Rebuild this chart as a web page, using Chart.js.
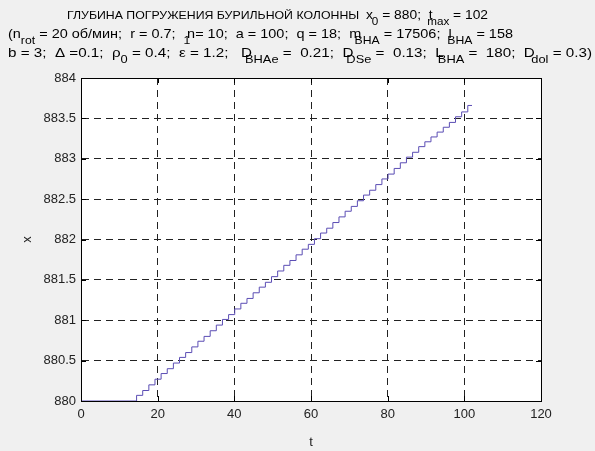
<!DOCTYPE html>
<html>
<head>
<meta charset="utf-8">
<script src="https://cdn.jsdelivr.net/npm/chart.js@4.4.0/dist/chart.umd.min.js"></script>
<style>
  html, body { margin: 0; padding: 0; background: #f0f0f0; }
</style>
</head>
<body>
<canvas id="chart" width="595" height="451"></canvas>
<script>
// ---------- DATA ----------
const stepT = [0, 14.5, 16.1, 17.7, 19.3, 20.9, 22.5, 24.1, 25.7, 27.3, 28.9, 30.5, 32.1, 33.7, 35.3,
  36.9, 38.5, 40.1, 41.7, 43.3, 44.9, 46.5, 48.1, 49.7, 51.3, 52.9, 54.5, 56.1, 57.7, 59.3, 60.9,
  62.5, 64.1, 65.7, 67.3, 68.9, 70.5, 72.1, 73.7, 75.3, 76.9, 78.5, 80.1, 81.7, 83.3, 84.9, 86.5,
  88.1, 89.7, 91.3, 92.9, 94.5, 96.1, 97.7, 99.3, 100.9, 102];
const stepX = [880, 880.07, 880.13, 880.20, 880.27, 880.34, 880.40, 880.47, 880.54, 880.60, 880.67,
  880.74, 880.80, 880.87, 880.94, 881.01, 881.07, 881.14, 881.21, 881.27, 881.34, 881.41, 881.47,
  881.54, 881.61, 881.68, 881.74, 881.81, 881.88, 881.94, 882.01, 882.08, 882.14, 882.21, 882.28,
  882.35, 882.41, 882.48, 882.55, 882.61, 882.68, 882.75, 882.81, 882.88, 882.95, 883.02, 883.08,
  883.15, 883.21, 883.27, 883.33, 883.39, 883.45, 883.52, 883.58, 883.66, 883.66];
const tRange = [0, 120, 20];
const xRange = [880, 884, 0.5];
const xLabel = "x";
const tLabel = "t";

// title lines: [text, isSubscript, shiftBack, fontSize]
const titleLines = [
  { x0: 67, x1: 488, y: 19, parts: [
    ["ГЛУБИНА ПОГРУЖЕНИЯ БУРИЛЬНОЙ КОЛОННЫ  ", 0, 0, 11.6], ["x", 0, 0], ["0", 1, 1], [" = 880;  t", 0, 0], ["max", 1, 5], [" = 102", 0, 0]
  ]},
  { x0: 8, x1: 513, y: 38, parts: [
    ["(n", 0, 0], ["rot", 1, 0], [" = 20 об/мин;  r = 0.7;  ", 0, 0], ["1", 1, 0], ["n= 10;  a = 100;  q = 18;  m", 0, 3],
    ["BHA", 1, 6], [" = 17506;  l", 0, 0], ["BHA", 1, 4], [" = 158", 0, 0]
  ]},
  { x0: 8, x1: 592, y: 57, parts: [
    ["b = 3;  Δ =0.1;  ρ", 0, 0], ["0", 1, 0], [" = 0.4;  ε = 1.2;   D", 0, 0], ["BHAe", 1, 6], [" =  0.21;  D", 0, 0],
    ["DSe", 1, 6], [" =  0.13;  L", 0, 0], ["BHA", 1, 5], [" =  180;  D", 0, 0], ["dol", 1, 3], [" = 0.3)", 0, 0]
  ]}
];

const FONT = "'Liberation Sans', Arial, sans-serif";

// ---------- PLUGINS ----------
const backdrop = {
  id: "backdrop",
  beforeDraw(chart) {
    const { ctx, chartArea: a } = chart;
    ctx.save();
    ctx.fillStyle = "#f0f0f0";
    ctx.fillRect(0, 0, chart.width, chart.height);
    ctx.fillStyle = "#ffffff";
    ctx.fillRect(a.left, a.top, a.right - a.left, a.bottom - a.top);
    ctx.restore();
  }
};

function partFont(sub, size) {
  return (size || (sub ? 11 : 13)) + "px " + FONT;
}

const frame = {
  id: "frame",
  afterDraw(chart) {
    const { ctx, chartArea: a, scales } = chart;
    ctx.save();
    ctx.strokeStyle = "#000";
    ctx.lineWidth = 1;
    ctx.strokeRect(a.left + 0.5, a.top + 0.5, a.right - a.left, a.bottom - a.top);
    ctx.beginPath();
    const len = 5;
    scales.x.ticks.forEach(t => {
      const px = Math.round(scales.x.getPixelForValue(t.value)) + 0.5;
      ctx.moveTo(px, a.bottom); ctx.lineTo(px, a.bottom - len);
      ctx.moveTo(px, a.top); ctx.lineTo(px, a.top + len);
    });
    scales.y.ticks.forEach(t => {
      const py = Math.round(scales.y.getPixelForValue(t.value)) + 0.5;
      ctx.moveTo(a.left, py); ctx.lineTo(a.left + len, py);
      ctx.moveTo(a.right, py); ctx.lineTo(a.right - len, py);
    });
    ctx.stroke();

    // title with subscripts
    ctx.fillStyle = "#000";
    ctx.textBaseline = "alphabetic";
    titleLines.forEach(line => {
      let w = 0;
      line.parts.forEach(([txt, sub, back, size]) => {
        ctx.font = partFont(sub, size);
        w += ctx.measureText(txt).width - back;
      });
      const k = (line.x1 - line.x0) / w;
      ctx.save();
      ctx.translate(line.x0, 0);
      ctx.scale(k, 1);
      let x = 0;
      line.parts.forEach(([txt, sub, back, size]) => {
        ctx.font = partFont(sub, size);
        x -= back;
        ctx.fillText(txt, x, sub ? line.y + 6 : line.y);
        x += ctx.measureText(txt).width;
      });
      ctx.restore();
    });
    ctx.restore();
  }
};

// ---------- CHART ----------
const tickFont = { family: FONT, size: 13 };

new Chart(document.getElementById("chart"), {
  type: "line",
  data: {
    datasets: [{
      data: stepT.map((t, i) => ({ x: t, y: stepX[i] })),
      borderColor: "#5b4db4",
      borderWidth: 1,
      pointRadius: 0,
      stepped: "before",
      fill: false
    }]
  },
  options: {
    responsive: false,
    animation: false,
    layout: { padding: { top: 78, right: 54, left: 0, bottom: 0 } },
    plugins: { legend: { display: false }, tooltip: { enabled: false } },
    scales: {
      x: {
        type: "linear",
        min: tRange[0], max: tRange[1],
        ticks: { stepSize: tRange[2], color: "#222", font: tickFont, padding: 6 },
        grid: { color: "#222", drawTicks: false, lineWidth: 1 },
        border: { dash: [7, 5], color: "#000" },
        title: { display: true, text: tLabel, color: "#222", font: tickFont, padding: { top: 0, bottom: 1 } },
        afterFit(s) { s.height = 50; }
      },
      y: {
        min: xRange[0], max: xRange[1],
        ticks: {
          stepSize: xRange[2], color: "#222", font: tickFont, padding: 5,
          callback: v => String(Math.round(v * 10) / 10)
        },
        grid: { color: "#222", drawTicks: false, lineWidth: 1 },
        border: { dash: [7, 5], color: "#000" },
        title: { display: true, text: xLabel, color: "#222", font: tickFont, padding: { top: 20, bottom: 0 } },
        afterFit(s) { s.width = 81; }
      }
    }
  },
  plugins: [backdrop, frame]
});
</script>
</body>
</html>
